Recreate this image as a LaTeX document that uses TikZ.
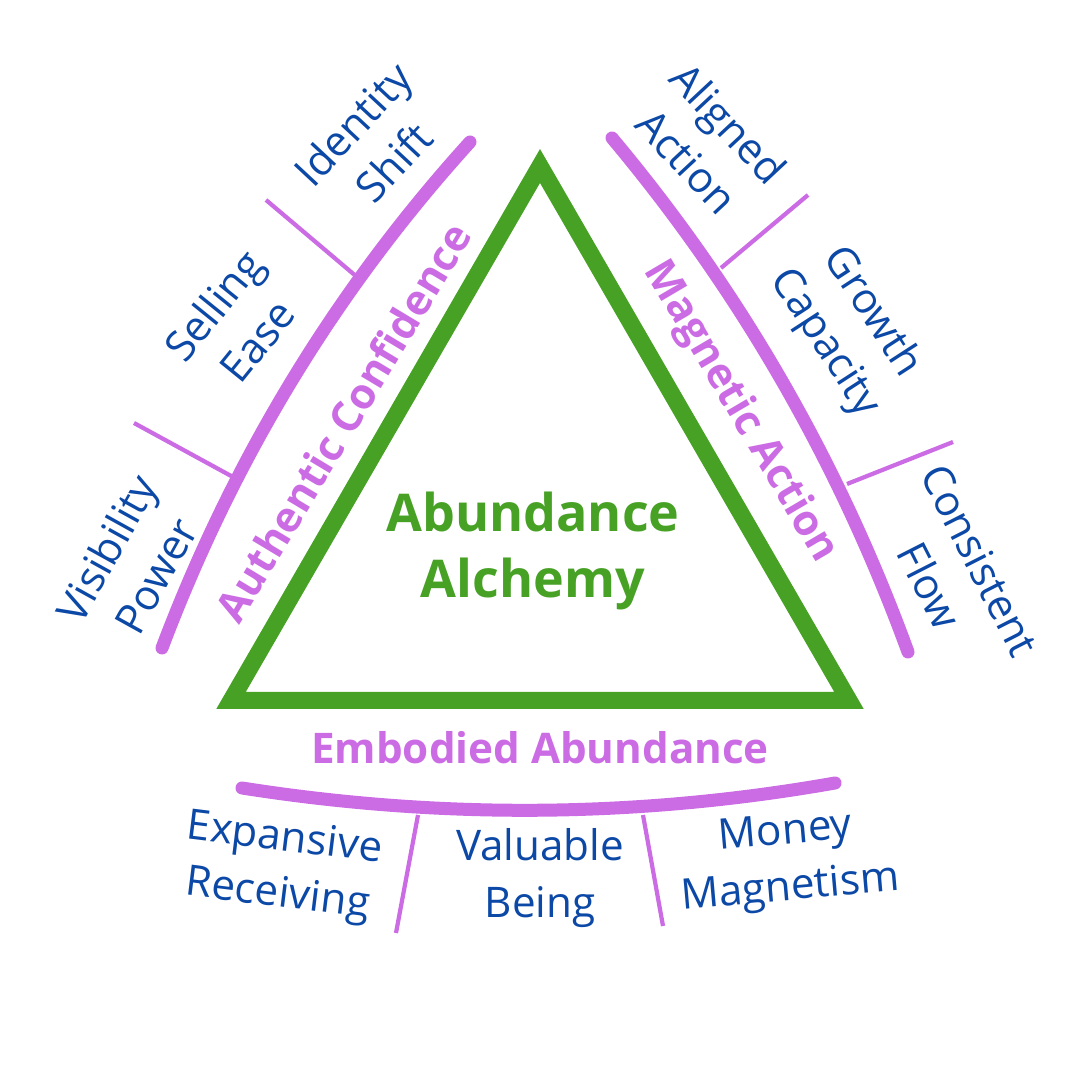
\documentclass[tikz,border=0pt]{standalone}
\usepackage{fontspec}
\setmainfont{Open Sans}

\definecolor{leafgreen}{RGB}{71,161,37}
\definecolor{orchid}{RGB}{203,108,228}
\definecolor{inkblue}{RGB}{12,72,166}

\begin{document}
\begin{tikzpicture}[
    triangle/.style={line width=0.17cm, leafgreen},
    bracket/.style={line width=0.13cm, orchid, line cap=round},
    tick/.style={line width=1.2pt, orchid},
    pillar/.style={font=\fontsize{12}{15}\selectfont\bfseries, text=orchid},
    facet/.style={font=\fontsize{12}{16}\selectfont, text=inkblue, align=center},
    core/.style={font=\fontsize{14.8}{19}\selectfont\bfseries, text=leafgreen, align=center}]

  % canvas 10.8 x 10.8 cm (1 cm = 100 px of the reference)
  \useasboundingbox (0,0) rectangle (10.8,10.8);

  % === Central triangle ===
  \draw[triangle] (5.40,9.14) -- (2.31,3.795) -- (8.49,3.795) -- cycle;
  \node[core] (alchemy) at (5.33,5.29) {Abundance\\Alchemy};

  % === Ticks between the facets (drawn first, arcs cover their roots) ===
  \coordinate (l1) at (3.57,8.03);  \coordinate (l1o) at (2.66,8.80);
  \coordinate (l2) at (2.33,6.03);  \coordinate (l2o) at (1.34,6.57);
  \coordinate (r1) at (7.21,8.12);  \coordinate (r1o) at (8.08,8.85);
  \coordinate (r2) at (8.47,5.96);  \coordinate (r2o) at (9.53,6.38);
  \coordinate (b1) at (4.18,2.65);  \coordinate (b1o) at (3.96,1.47);
  \coordinate (b2) at (6.43,2.65);  \coordinate (b2o) at (6.63,1.54);
  \foreach \t in {l1,l2,r1,r2,b1,b2}
    \draw[tick] (\t) -- (\t o);

  % === Arcs round the three sides ===
  % left side
  \draw[bracket] (4.70,9.38)
    .. controls (3.35,7.89) and (2.33,6.20) .. (1.62,4.32);
  % right side
  \draw[bracket] (6.12,9.42)
    .. controls (7.41,7.88) and (8.39,6.17) .. (9.08,4.28);
  % bottom side
  \draw[bracket] (2.42,2.92)
    .. controls (4.39,2.61) and (6.37,2.62) .. (8.35,2.97);

  % === Pillar labels ===
  \node[pillar, rotate=59] (confidence) at (3.43,6.58) {Authentic Confidence};
  \node[pillar, rotate=-59.5] (magnetic) at (7.40,6.68) {Magnetic Action};
  \node[pillar] (embodied) at (5.40,3.32) {Embodied Abundance};

  % === Facets, left side ===
  \node[facet, rotate=47] (identity) at (3.73,9.37) {Identity\\Shift};
  \node[facet, rotate=51] (selling) at (2.35,7.57) {Selling\\Ease};
  \node[facet, rotate=61] (visibility) at (1.31,5.18) {Visibility\\Power};

  % === Facets, right side ===
  \node[facet, rotate=-47] (aligned) at (7.08,9.38) {Aligned\\Action};
  \node[facet, rotate=-57] (growth) at (8.48,7.52) {Growth\\Capacity};
  \node[facet, rotate=-63] (consistent) at (9.55,5.07) {Consistent\\Flow};

  % === Facets, bottom ===
  \node[facet, rotate=-7] (expansive) at (2.81,2.12) {Expansive\\Receiving};
  \node[facet] (valuable) at (5.40,2.02) {Valuable\\Being};
  \node[facet, rotate=5] (money) at (7.88,2.18) {Money\\Magnetism};

\end{tikzpicture}
\end{document}
